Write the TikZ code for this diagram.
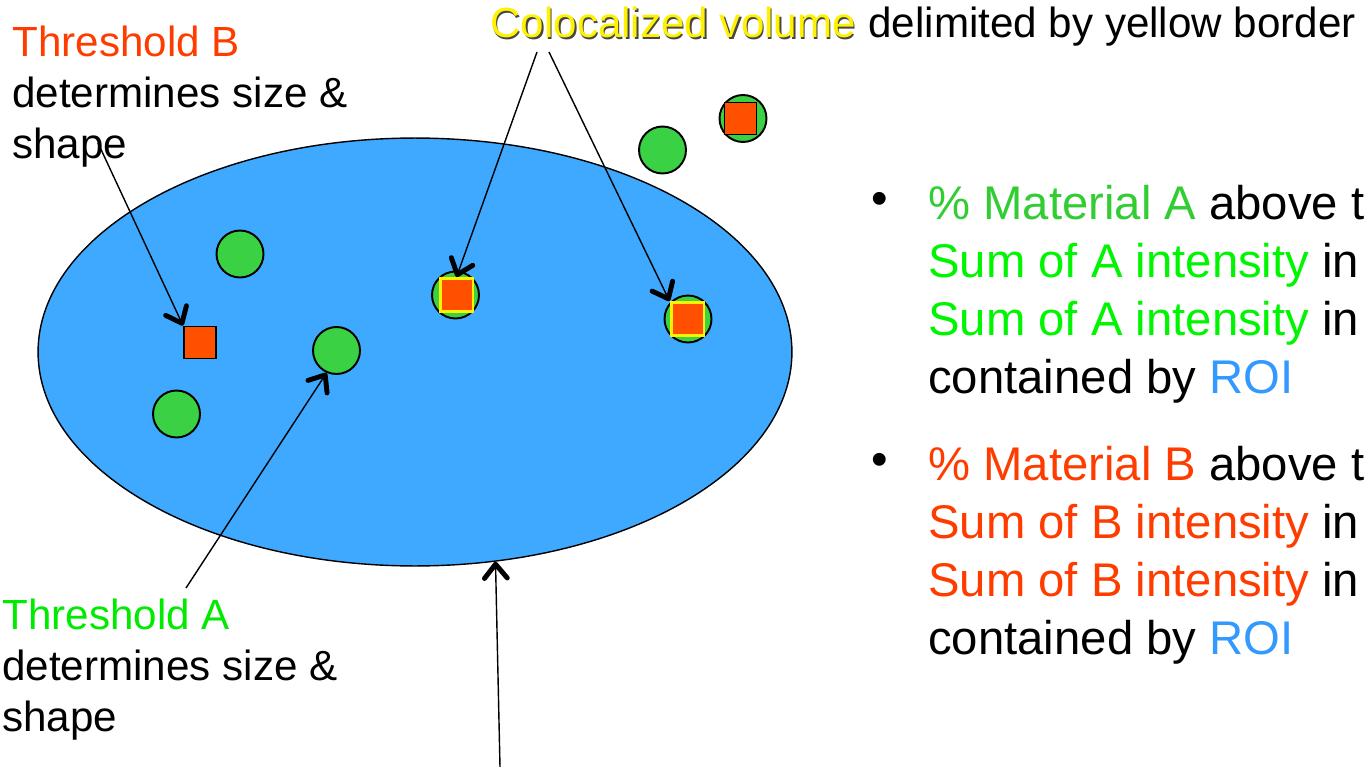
\documentclass[tikz,border=0pt]{standalone}
\usepackage{fontspec}
\setmainfont{Liberation Sans}
\usetikzlibrary{shapes.geometric,arrows.meta}

\definecolor{roiblue}{RGB}{63,169,255}
\definecolor{spotgreen}{RGB}{58,210,68}
\definecolor{spotorange}{RGB}{255,80,0}
\definecolor{matgreen}{RGB}{50,205,50}
\definecolor{sumgreen}{RGB}{0,245,0}
\definecolor{thrgreen}{RGB}{0,235,0}
\definecolor{thrred}{RGB}{255,60,0}
\definecolor{roitext}{RGB}{51,153,255}
\definecolor{shadowgray}{RGB}{70,70,70}

\begin{document}
\begin{tikzpicture}[
    x=0.02cm, y=-0.02cm,
    spot/.style={draw, circle, fill=spotgreen, line width=1.1pt, minimum size=0.94cm, inner sep=0pt},
    sq/.style={draw, fill=spotorange, line width=1.1pt, minimum size=0.64cm, inner sep=0pt},
    colsq/.style={draw=yellow, fill=spotorange, line width=1.7pt, minimum size=0.66cm, inner sep=0pt},
    lbl/.style={inner sep=0pt, anchor=base west, align=left, font=\fontsize{24}{29}\selectfont},
    big/.style={inner sep=0pt, anchor=base west, align=left, font=\fontsize{26.9}{33}\selectfont},
    >={Straight Barb[length=8pt,width=13pt,line width=2.8pt,round]}
]
    \useasboundingbox (0,0) rectangle (1366,767);

    % Region of interest
    \node[draw, ellipse, fill=roiblue, line width=0.8pt, minimum width=15.08cm,
          minimum height=8.56cm, inner sep=0pt] (roi) at (415,352) {};

    % Spots of material A
    \node[spot] (c1) at (240,254) {};
    \node[spot] (c2) at (336.5,350.5) {};
    \node[spot] (c3) at (455.5,295) {};
    \node[spot] (c4) at (688,319) {};
    \node[spot] (c5) at (176.5,414) {};
    \node[spot] (c6) at (662.5,150) {};
    \node[spot] (c7) at (743,118.5) {};

    % Spots of material B
    \node[sq] (sqB) at (200,342.5) {};
    \node[sq] (sq7) at (740.5,118.5) {};
    \node[colsq] (sq3) at (456.5,295) {};
    \node[colsq] (sq4) at (687.5,319) {};

    % Top label
    \node[lbl, text=shadowgray] (colshadow) at (491.5,39.5) {Colocalized volume};
    \node[lbl, text=yellow] (colvol) at (490,38) {Colocalized volume};
    \node[lbl] (delim) at (colvol.base east) {\ delimited by yellow border};

    % Threshold labels (anchored at the last line)
    \node[lbl] (thrB) at (12,158) {\textcolor{thrred}{Threshold B}\\determines size \&\\shape};
    \node[lbl] (thrA) at (2,731) {\textcolor{thrgreen}{Threshold A}\\determines size \&\\shape};

    % Bullets
    \node[big, anchor=center] (bulA) at (880,203) {\textbullet};
    \node[big] (matA) at (928,393) {\textcolor{matgreen}{\% Material A} above t\\
        \textcolor{sumgreen}{Sum of A intensity} in\\
        \textcolor{sumgreen}{Sum of A intensity} in\\
        contained by \textcolor{roitext}{ROI}};
    \node[big, anchor=center] (bulB) at (880,464) {\textbullet};
    \node[big] (matB) at (928,654) {\textcolor{thrred}{\% Material B} above t\\
        \textcolor{thrred}{Sum of B intensity} in\\
        \textcolor{thrred}{Sum of B intensity} in\\
        contained by \textcolor{roitext}{ROI}};

    % Arrow tails
    \coordinate (tbtail) at (98,143);
    \coordinate (tatail) at (186,588);
    \coordinate (coltail1) at (537,52);
    \coordinate (coltail2) at (549,52);
    \coordinate (roitail) at (500,767);

    % Arrows
    \draw[->, line width=0.8pt] (tbtail) -- (sqB.north west);
    \draw[->, line width=0.8pt] (tatail) -- (c2.-114);
    \draw[->, line width=0.8pt] (coltail1) -- (sq3.north);
    \draw[->, line width=0.8pt] (coltail2) -- (sq4.north west);
    \draw[->, line width=0.8pt] (roitail) -- (roi.-69);
\end{tikzpicture}
\end{document}
